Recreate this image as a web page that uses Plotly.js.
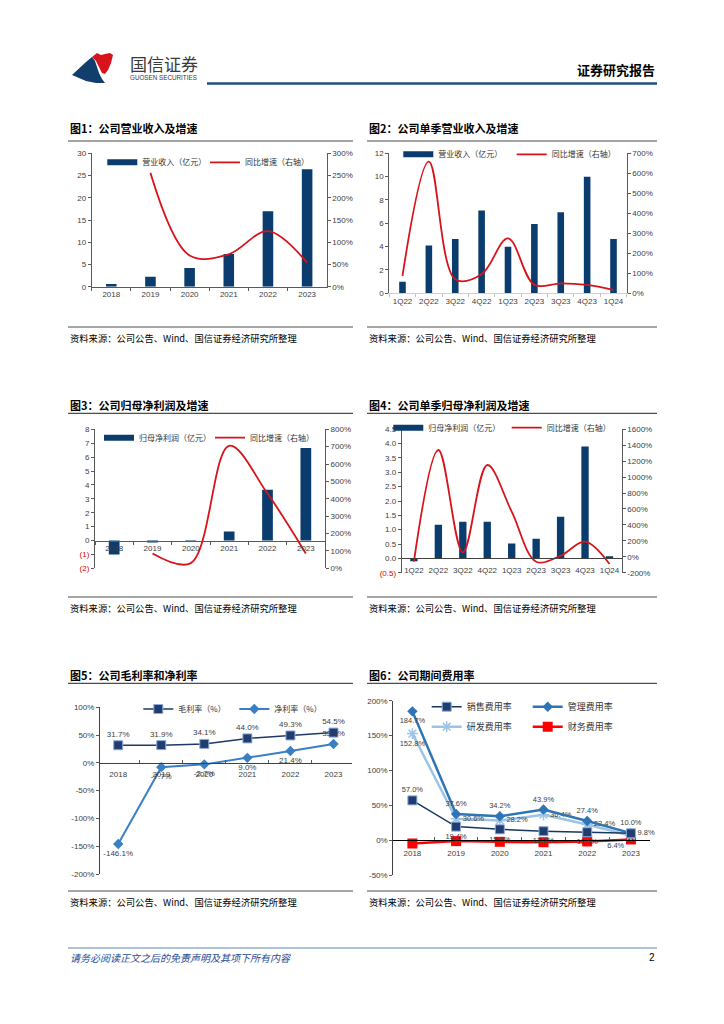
<!DOCTYPE html>
<html><head><meta charset="utf-8">
<script src="https://cdn.plot.ly/plotly-3.0.1.min.js"></script>
<style>html,body{margin:0;padding:0;background:#fff;}#page{width:724px;height:1024px;}</style>
</head><body><div id="page"></div>
<script>
// ---------- data ----------
const years = ['2018','2019','2020','2021','2022','2023'];
const quarters = ['1Q22','2Q22','3Q22','4Q22','1Q23','2Q23','3Q23','4Q23','1Q24'];
const revenue = [0.6,2.25,4.2,7.35,16.95,26.4];
const revenueYoY = [null,256,70,73,125,54];
const qRevenue = [1.0,4.1,4.65,7.1,4.0,5.95,6.95,10.0,4.65];
const qRevenueYoY = [87,658,70,95,275,42,50,42,17];
const netProfit = [-1.0,-0.15,-0.05,0.65,3.65,6.65];
const netProfitYoY = [null,85,30,705,430,85];
const qNetProfit = [-0.1,1.17,1.28,1.28,0.52,0.68,1.45,3.9,0.07];
const qNetProfitYoY = [-62,1340,55,1152,566,-62,13,189,-91];
const grossMargin = [31.7,31.9,34.1,44.0,49.3,54.5];
const netMargin = [-146.1,-7.7,-2.7,9.0,21.4,33.9];
const sellingRate = [57.0,19.4,15.5,12.8,11.3,9.8];
const adminRate = [184.7,37.6,34.2,43.9,27.4,10.0];
const rdRate = [152.8,30.6,28.2,36.4,22.4,6.4];
const financeRate = [-4.8,-1.4,-2.4,-3.0,-1.9,1.0];

const legendNames = {
  rev:'营业收入（亿元）', yoy:'同比增速（右轴）', np:'归母净利润（亿元）',
  gm:'毛利率（%）', nm:'净利率（%）',
  sell:'销售费用率', admin:'管理费用率', rd:'研发费用率', fin:'财务费用率'
};
const titles = ['图1：公司营业收入及增速','图2：公司单季营业收入及增速','图3：公司归母净利润及增速',
  '图4：公司单季归母净利润及增速','图5：公司毛利率和净利率','图6：公司期间费用率'];
const sourceText = '资料来源：公司公告、Wind、国信证券经济研究所整理';

// ---------- helpers ----------
const W=724,H=1024;
const X=p=>p/W, Y=p=>1-p/H;
const FONT='"Liberation Sans", "Noto Sans CJK SC", sans-serif';
const CJK='"Noto Sans CJK SC", sans-serif';
const AX='#595959', TK='#404040', BAR='#0b3c6e', RED='#d7141c';
const pct = a=>a.map(v=>v.toFixed(1)+'%');
const pctTick = v=>(v<0?'-'+(-v):v)+'%';
const redSpan = s=>'<span style="color:#e00000">'+s+'</span>';

const layout = {width:W,height:H,margin:{l:0,r:0,t:0,b:0},paper_bgcolor:'#fff',plot_bgcolor:'rgba(0,0,0,0)',
  showlegend:true, shapes:[], annotations:[], hovermode:false};
const traces = [];
let nLeg=0;
function legend(swEnd, yc, size){
  nLeg++; const id = nLeg===1?'legend':'legend'+nLeg;
  layout[id]={x:X(swEnd-35),y:Y(yc),xanchor:'left',yanchor:'middle',bgcolor:'rgba(0,0,0,0)',borderwidth:0,
    font:{family:CJK,size:size||8,color:'#333'},itemwidth:30,tracegroupgap:0};
  return id;
}
function xcat(d0,d1,o){return Object.assign({domain:[X(d0),X(d1)],type:'category',showgrid:false,zeroline:false,
  showline:true,linecolor:AX,linewidth:1,ticks:'outside',tickson:'boundaries',ticklen:3,tickcolor:AX,tickangle:0,
  tickfont:{size:8,color:TK,family:FONT},fixedrange:true},o);}
function yax(top,bot,o){return Object.assign({domain:[Y(bot),Y(top)],showgrid:false,zeroline:false,showline:true,
  linecolor:AX,linewidth:1,ticks:'outside',ticklen:3,tickcolor:AX,tickfont:{size:8,color:TK,family:FONT},fixedrange:true},o);}
function range(a,b,s){const r=[];for(let v=a;v<=b+1e-9;v+=s)r.push(Math.round(v*100)/100);return r;}
function pctAxis(a,b,s){const v=range(a,b,s);return {range:[a,b],tickvals:v,ticktext:v.map(pctTick)};}
function line(x0,y0,x1,y1,c,w){layout.shapes.push({type:'line',xref:'paper',yref:'paper',x0:X(x0),y0:Y(y0),x1:X(x1),y1:Y(y1),line:{color:c,width:w}});}
function text(x,y,t,o){layout.annotations.push(Object.assign({xref:'paper',yref:'paper',x:X(x),y:Y(y),text:t,showarrow:false,
  xanchor:'left',yanchor:'middle',font:{family:CJK,size:10,color:'#000'}},o));}
function dummy(name,color,w,xa,ya,leg){traces.push({type:'scatter',mode:'lines',x:[null],y:[null],
  xaxis:xa,yaxis:ya,name:name,legend:leg,line:{color:color,width:w}});}

// ---------- chart 1 ----------
layout.xaxis = xcat(91.7,326.7,{anchor:'y'});
layout.yaxis = yax(153.3,286.7,{anchor:'x',range:[0,30],tickvals:range(0,30,5)});
layout.yaxis2 = yax(153.3,286.7,Object.assign({anchor:'x',overlaying:'y',side:'right'},pctAxis(0,300,50)));
traces.push({type:'bar',x:years,y:revenue,xaxis:'x',yaxis:'y',width:0.27,marker:{color:BAR},showlegend:false});
dummy(legendNames.rev,BAR,6,'x','y',legend(137.3,162.3));
traces.push({type:'scatter',mode:'lines',x:years,y:revenueYoY,xaxis:'x',yaxis:'y2',name:legendNames.yoy,
  legend:legend(240,162.3),line:{color:RED,width:1.8,shape:'spline',smoothing:1}});

// ---------- chart 2 ----------
layout.xaxis2 = xcat(389.3,626.7,{anchor:'y3',linecolor:'#d0d0d0',tickcolor:'#bfbfbf'});
layout.yaxis3 = yax(153.3,293.3,{anchor:'x2',range:[0,12],tickvals:range(0,12,2)});
layout.yaxis4 = yax(153.3,293.3,Object.assign({anchor:'x2',overlaying:'y3',side:'right'},pctAxis(0,700,100)));
traces.push({type:'bar',x:quarters,y:qRevenue,xaxis:'x2',yaxis:'y3',width:0.25,marker:{color:BAR},showlegend:false});
dummy(legendNames.rev,BAR,6,'x2','y3',legend(433.3,154.3));
traces.push({type:'scatter',mode:'lines',x:quarters,y:qRevenueYoY,xaxis:'x2',yaxis:'y4',name:legendNames.yoy,
  legend:legend(546.7,154.3),line:{color:RED,width:1.8,shape:'spline',smoothing:1}});

// ---------- chart 3 ----------
const c3t=429.3,c3b=568.3, c3z=c3b-(2/10)*(c3b-c3t);
layout.xaxis3 = xcat(95,325,{anchor:'free',position:Y(c3z)});
const c3vals=range(-2,8,1);
layout.yaxis5 = yax(c3t,c3b,{anchor:'x3',range:[-2,8],tickvals:c3vals,ticktext:c3vals.map(v=>v<0?redSpan('('+(-v)+')'):String(v))});
layout.yaxis6 = yax(c3t,c3b,Object.assign({anchor:'x3',overlaying:'y5',side:'right'},pctAxis(0,800,100)));
traces.push({type:'bar',x:years,y:netProfit,xaxis:'x3',yaxis:'y5',width:0.28,marker:{color:BAR},showlegend:false});
dummy(legendNames.np,BAR,6,'x3','y5',legend(134,437.7));
traces.push({type:'scatter',mode:'lines',x:years,y:netProfitYoY,xaxis:'x3',yaxis:'y6',name:legendNames.yoy,
  legend:legend(245,437.7),line:{color:RED,width:1.8,shape:'spline',smoothing:1}});

// ---------- chart 4 ----------
const c4t=429.3,c4b=572.7, c4z=c4b-(0.5/5)*(c4b-c4t);
layout.xaxis4 = xcat(401.7,621.7,{anchor:'free',position:Y(c4z),ticks:'',ticklabelstandoff:4,linecolor:'#404040'});
const c4vals=range(-0.5,4.5,0.5);
layout.yaxis7 = yax(c4t,c4b,{anchor:'x4',range:[-0.5,4.5],tickvals:c4vals,ticktext:c4vals.map(v=>v<0?redSpan('('+(-v).toFixed(1)+')'):v.toFixed(1))});
layout.yaxis8 = yax(c4t,c4b,Object.assign({anchor:'x4',overlaying:'y7',side:'right'},pctAxis(-200,1600,200)));
traces.push({type:'bar',x:quarters,y:qNetProfit,xaxis:'x4',yaxis:'y7',width:0.3,marker:{color:BAR},showlegend:false});
dummy(legendNames.np,BAR,6,'x4','y7',legend(423.3,427.7));
traces.push({type:'scatter',mode:'lines',x:quarters,y:qNetProfitYoY,xaxis:'x4',yaxis:'y8',name:legendNames.yoy,
  legend:legend(541.7,427.7),line:{color:RED,width:1.8,shape:'spline',smoothing:1}});

// ---------- chart 5 ----------
const c5t=707.3,c5b=874, c5z=c5b-(200/300)*(c5b-c5t);
layout.xaxis5 = xcat(100,351.7,{anchor:'free',position:Y(c5z),ticks:'inside',ticklabelstandoff:4,linecolor:'#404040'});
layout.yaxis9 = yax(c5t,c5b,Object.assign({anchor:'x5',linecolor:'#404040'},pctAxis(-200,100,50)));
traces.push({type:'scatter',mode:'lines+markers+text',x:years,y:grossMargin,xaxis:'x5',yaxis:'y9',name:legendNames.gm,
  legend:legend(173.3,709),line:{color:'#1f3864',width:1.5},marker:{symbol:'square',size:9,color:'#1f3d6e',line:{color:'#8faadc',width:1}},
  text:pct(grossMargin),textposition:'top center',textfont:{size:8,color:TK,family:FONT},cliponaxis:false});
traces.push({type:'scatter',mode:'lines+markers+text',x:years,y:netMargin,xaxis:'x5',yaxis:'y9',name:legendNames.nm,
  legend:legend(269.3,709),line:{color:'#3a7fc4',width:2},marker:{symbol:'diamond',size:8,color:'#3a7fc4'},
  text:pct(netMargin),textposition:['bottom center','bottom center','bottom center','bottom center','bottom center','top center'],
  textfont:{size:8,color:TK,family:FONT},cliponaxis:false});

// ---------- chart 6 ----------
const c6t=700.7,c6b=875, c6z=c6b-(50/250)*(c6b-c6t);
layout.xaxis6 = xcat(393.3,650,{anchor:'free',position:Y(c6z),ticks:'inside',ticklabelstandoff:5,linecolor:'#000'});
layout.yaxis10 = yax(c6t,c6b,Object.assign({anchor:'x6',linecolor:'#404040'},pctAxis(-50,200,50)));
const tf6={size:7.5,color:TK,family:FONT};
const legSell=legend(461.7,706.7,9), legAdmin=legend(562.7,706.7,9), legRd=legend(461.7,726.7,9), legFin=legend(562.7,726.7,9);
traces.push({type:'scatter',mode:'lines+markers',x:years,y:financeRate,xaxis:'x6',yaxis:'y10',name:legendNames.fin,
  legend:legFin,line:{color:'#ff0000',width:2.5},marker:{symbol:'square',size:10,color:'#ff0000'},cliponaxis:false});
traces.push({type:'scatter',mode:'lines+markers+text',x:years,y:rdRate,xaxis:'x6',yaxis:'y10',name:legendNames.rd,
  legend:legRd,line:{color:'#9dc3e6',width:2.5},marker:{symbol:'asterisk-open',size:9,color:'#9dc3e6',line:{color:'#9dc3e6',width:1.5}},
  text:pct(rdRate),textposition:['bottom center','middle right','middle right','middle right','middle right','bottom left'],textfont:tf6,cliponaxis:false});
traces.push({type:'scatter',mode:'lines+markers+text',x:years,y:adminRate,xaxis:'x6',yaxis:'y10',name:legendNames.admin,
  legend:legAdmin,line:{color:'#2e75b6',width:2.5},marker:{symbol:'diamond',size:8,color:'#2e75b6'},
  text:pct(adminRate),textposition:['bottom center','top center','top center','top center','top center','top center'],textfont:tf6,cliponaxis:false});
traces.push({type:'scatter',mode:'lines+markers+text',x:years,y:sellingRate,xaxis:'x6',yaxis:'y10',name:legendNames.sell,
  legend:legSell,line:{color:'#17375e',width:1.5},marker:{symbol:'square',size:9,color:'#1f3d6e',line:{color:'#8faadc',width:1}},
  text:pct(sellingRate),textposition:['top center','bottom center','bottom center','bottom center','bottom center','middle right'],textfont:tf6,cliponaxis:false});

// ---------- page furniture ----------
function poly(pts,color){layout.shapes.push({type:'path',xref:'paper',yref:'paper',fillcolor:color,line:{width:0},
  path:'M'+pts.map(p=>X(p[0])+','+Y(p[1])).join('L')+'Z'});}
poly([[72,75],[86,62],[92,57],[95,61],[97,67],[99,73],[102,79],[105,83],[96,83],[86,81]],'#123e6e');
poly([[92,57],[97,53],[101,55],[105,54],[110,53],[113,55],[111,63],[108,70],[105,74],[102,73],[99,67],[96,61]],'#d7141c');
text(128,63.5,'国信证券',{font:{family:CJK,size:17,color:'#3a3a3a'}});
text(128,77.5,'GUOSEN SECURITIES',{font:{family:'"Liberation Sans", sans-serif',size:6.3,color:'#3a3a3a'}});
line(207,83.5,657,83.5,'#1f4e79',2.5);
text(657,69,'<b>证券研究报告</b>',{xanchor:'right',font:{family:CJK,size:13,color:'#000'}});

const colX=[[68,353],[367,657]];
const rows=[{t:128,u:141,s:338,sl:327},{t:404.5,u:413.3,s:608,sl:597},{t:675,u:683.3,s:902,sl:891}];
titles.forEach((t,i)=>{const r=rows[Math.floor(i/2)], c=colX[i%2];
  text(c[0],r.t,'<b>'+t+'</b>',{font:{family:CJK,size:11,color:'#000'}});
  line(c[0],r.u,c[1],r.u,'#4d4d4d',1.2);
  line(c[0],r.sl,c[1],r.sl,'#4d4d4d',1);
  text(c[0],r.s,sourceText,{font:{family:CJK,size:9.3,color:'#000'}});
});
line(68,948,657,948,'#5b87b8',1);
text(68,957.5,'请务必阅读正文之后的免责声明及其项下所有内容',{font:{family:CJK,size:10,color:'#1f4e96',style:'italic'}});
text(657,957.5,'2',{xanchor:'right',font:{family:FONT,size:10,color:'#000'}});

Plotly.newPlot('page',traces,layout,{staticPlot:true,displayModeBar:false});
</script></body></html>
